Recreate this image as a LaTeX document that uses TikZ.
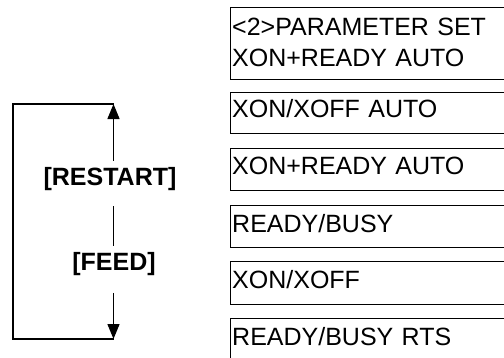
\documentclass[tikz,border=0pt]{standalone}
\usepackage{fontspec}
\setmainfont{Liberation Sans}
\usetikzlibrary{arrows.meta}
\begin{document}
\begin{tikzpicture}[x=1pt,y=-1pt,line width=1.4pt,
  menubox/.style={draw,anchor=north west,minimum width=300pt,text width=297pt,
    align=left,inner xsep=1.5pt,inner ysep=0pt,font=\fontsize{25}{31}\selectfont},
  keylabel/.style={inner xsep=0pt,inner ysep=6pt,font=\fontsize{25}{30}\selectfont\bfseries},
  tip/.style={-{Triangle[length=15pt,width=12pt]}}]
  \useasboundingbox (0,0) rectangle (504,357);
  \clip (0,0) rectangle (504,357);
  % menu entries
  \foreach \n/\ytop/\hbase/\dbase/\txt in {1/7/28/44/{<2>PARAMETER SET\\XON+READY AUTO},
      2/92/25/16/{XON/XOFF AUTO},3/148/26/16/{XON+READY AUTO},4/205/27/15/{READY/BUSY},
      5/261/27/16/{XON/XOFF},6/318/27/23/{READY/BUSY RTS}} {
    \node[menubox,text height=\hbase pt,text depth=\dbase pt] (m\n) at (230,\ytop) {\txt};
  }
  % key loop
  \coordinate (upper) at (113.5,104);
  \coordinate (lower) at (113.5,339);
  \coordinate (upperL) at (13,104);
  \coordinate (lowerL) at (13,339);
  \node[keylabel] (restart) at (110,179) {[RESTART]};
  \node[keylabel] (feed) at (114,264.5) {[FEED]};
  \draw (upper) -- (upperL) -- (lowerL) -- (lower);
  \draw[tip] (restart.north -| upper) -- (upper);
  \draw[shorten <=9pt] (restart.south -| upper) -- (feed.north -| upper);
  \draw[tip,shorten <=10pt] (feed.south -| lower) -- (lower);
\end{tikzpicture}
\end{document}
